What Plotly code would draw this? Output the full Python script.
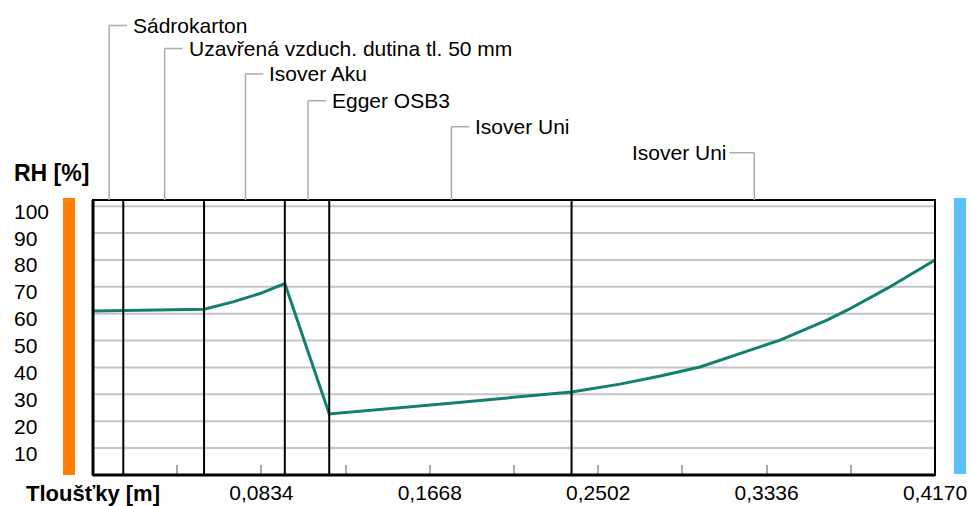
import plotly.graph_objects as go

# Wall assembly, interior (left) to exterior (right)
layer_names = ["Sádrokarton", "Uzavřená vzduch. dutina tl. 50 mm", "Isover Aku",
               "Egger OSB3", "Isover Uni", "Isover Uni"]
layer_thickness = [0.015, 0.040, 0.040, 0.022, 0.120, 0.180]  # m

# Relative humidity profile through the wall
rh_x = [0.000, 0.015, 0.055, 0.0693, 0.0827, 0.095, 0.117, 0.177, 0.237,
        0.261, 0.281, 0.3006, 0.3205, 0.3403, 0.3635, 0.3735, 0.3933, 0.417]
rh_y = [61.0, 61.2, 61.7, 64.4, 67.5, 71.2, 22.7, 26.7, 30.9,
        33.8, 36.8, 40.2, 45.2, 50.2, 57.6, 61.3, 69.4, 80.0]

# Axis ticks
x_tick_vals = [0.0417, 0.0834, 0.1251, 0.1668, 0.2085, 0.2502, 0.2919, 0.3336, 0.3753, 0.4170]
x_tick_text = ["", "0,0834", "", "0,1668", "", "0,2502", "", "0,3336", "", "0,4170"]
y_tick_vals = [10, 20, 30, 40, 50, 60, 70, 80, 90, 100]

W, H = 971, 506
L, R, T, B = 93, 36, 200, 31
PW, PH = W - L - R, H - T - B
X_MAX = sum(layer_thickness)
Y_MAX = 102.3
FONT = "Liberation Sans, Arial, sans-serif"


def px_x(p):
    return (p - L) / PW


def px_y(p):
    return (H - B - p) / PH


def data_to_px(x):
    return L + x / X_MAX * PW


fig = go.Figure()
fig.add_trace(go.Scatter(x=rh_x, y=rh_y, mode="lines",
                         line=dict(color="#13806E", width=3), hoverinfo="skip"))

shapes = []
# horizontal grid
for v in y_tick_vals:
    shapes.append(dict(type="line", xref="paper", yref="y", x0=0, x1=1, y0=v, y1=v,
                       line=dict(color="#C4C4C4", width=2), layer="below"))

# layer boundaries
bounds = [0.0]
for t in layer_thickness:
    bounds.append(bounds[-1] + t)
for b in bounds[1:-1]:
    shapes.append(dict(type="line", xref="x", yref="paper", x0=b, x1=b, y0=0, y1=1,
                       line=dict(color="black", width=2)))

# plot frame
shapes.append(dict(type="rect", xref="paper", yref="paper", x0=0, x1=1, y0=0, y1=1,
                   line=dict(color="black", width=2)))
shapes.append(dict(type="line", xref="paper", yref="paper", x0=0, x1=0, y0=0, y1=1,
                   line=dict(color="black", width=3)))
shapes.append(dict(type="line", xref="paper", yref="paper", x0=0, x1=1, y0=0, y1=0,
                   line=dict(color="black", width=3)))

# interior / exterior colour bars
shapes.append(dict(type="rect", xref="paper", yref="paper",
                   x0=px_x(63), x1=px_x(75), y0=px_y(475), y1=px_y(198),
                   fillcolor="#FF8000", line=dict(width=0)))
shapes.append(dict(type="rect", xref="paper", yref="paper",
                   x0=px_x(954), x1=px_x(966), y0=px_y(474), y1=px_y(198),
                   fillcolor="#5EC0F6", line=dict(width=0)))

annotations = []
# layer labels with elbow leaders
row_y = [25.5, 48.5, 74.0, 100.7, 126.7, 152.7]
leader_col = "#ABABAB"
for i, name in enumerate(layer_names):
    cx = data_to_px((bounds[i] + bounds[i + 1]) / 2) + 1
    ry = row_y[i]
    shapes.append(dict(type="line", xref="paper", yref="paper",
                       x0=px_x(cx), x1=px_x(cx), y0=1, y1=px_y(ry),
                       line=dict(color=leader_col, width=1.5)))
    if i < len(layer_names) - 1:
        shapes.append(dict(type="line", xref="paper", yref="paper",
                           x0=px_x(cx), x1=px_x(cx + 18), y0=px_y(ry), y1=px_y(ry),
                           line=dict(color=leader_col, width=1.5)))
        annotations.append(dict(text=name, xref="paper", yref="paper",
                                x=px_x(cx + 22), y=px_y(ry), xanchor="left",
                                yanchor="middle", showarrow=False,
                                font=dict(family=FONT, size=21, color="black")))
    else:
        shapes.append(dict(type="line", xref="paper", yref="paper",
                           x0=px_x(cx - 25), x1=px_x(cx), y0=px_y(ry), y1=px_y(ry),
                           line=dict(color=leader_col, width=1.5)))
        annotations.append(dict(text=name, xref="paper", yref="paper",
                                x=px_x(cx - 25), y=px_y(ry), xanchor="right",
                                yanchor="middle", showarrow=False,
                                font=dict(family=FONT, size=21, color="black")))

# y tick labels (left aligned)
for v in y_tick_vals:
    annotations.append(dict(text=str(v), xref="paper", yref="y", x=px_x(12), y=v,
                            xanchor="left", yanchor="middle", yshift=-5, showarrow=False,
                            font=dict(family=FONT, size=21, color="black")))

annotations.append(dict(text="<b>RH [%]</b>", xref="paper", yref="paper",
                        x=px_x(12), y=px_y(173), xanchor="left", yanchor="middle",
                        showarrow=False, font=dict(family=FONT, size=23, color="black")))
annotations.append(dict(text="<b>Tloušťky [m]</b>", xref="paper", yref="paper",
                        x=px_x(24), y=px_y(493), xanchor="left", yanchor="middle",
                        showarrow=False, font=dict(family=FONT, size=22, color="black")))

fig.update_layout(
    width=W, height=H,
    margin=dict(l=L, r=R, t=T, b=B, pad=0, autoexpand=False),
    paper_bgcolor="white", plot_bgcolor="white",
    showlegend=False,
    shapes=shapes, annotations=annotations,
    xaxis=dict(range=[0, X_MAX], showgrid=False, zeroline=False, showline=False,
               automargin=False,
               tickmode="array", tickvals=x_tick_vals, ticktext=x_tick_text,
               ticks="inside", ticklen=10, tickwidth=1.5, tickcolor="#A8A8A8",
               ticklabelstandoff=3,
               tickfont=dict(family=FONT, size=21, color="black"), fixedrange=True),
    yaxis=dict(range=[0, Y_MAX], showgrid=False, zeroline=False, showline=False,
               automargin=False,
               showticklabels=False, ticks="", fixedrange=True),
)

fig.write_html("out.html")
